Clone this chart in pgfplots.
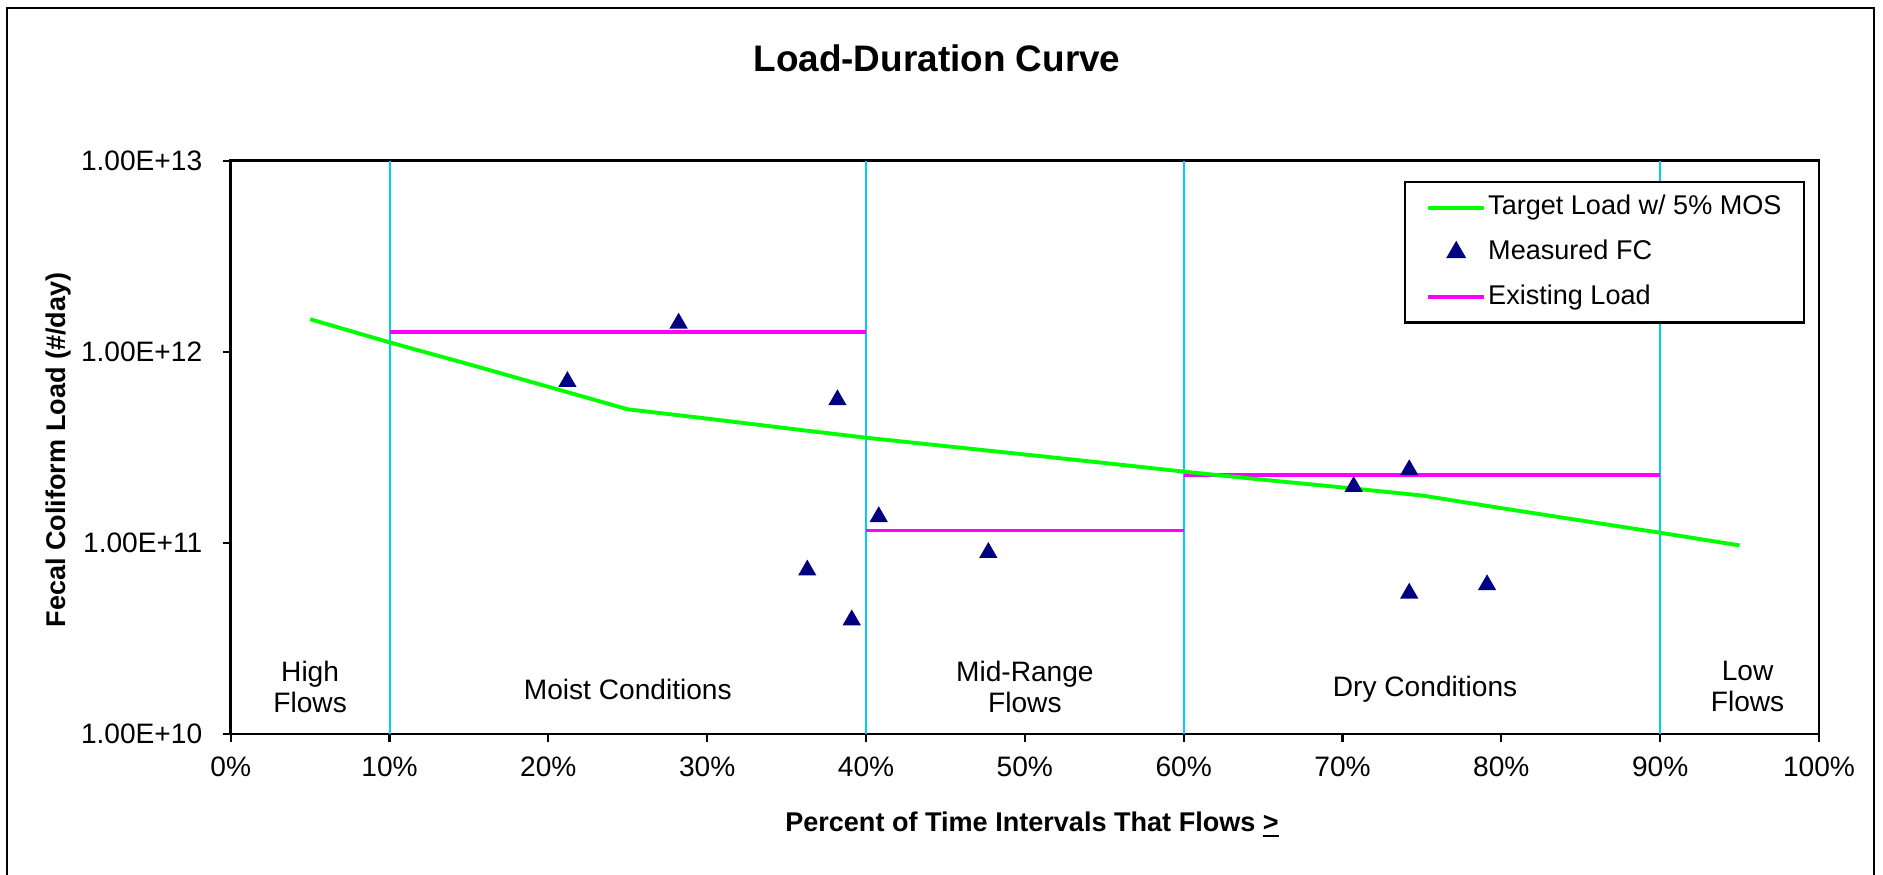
\documentclass[border=0pt]{standalone}
\usepackage{fontspec}
\setmainfont{Liberation Sans}
\usepackage{pgfplots}
\pgfplotsset{compat=1.18}
\definecolor{lgreen}{RGB}{0,255,0}
\definecolor{lmag}{RGB}{255,0,255}
\definecolor{lcyan}{RGB}{0,204,255}
\definecolor{lnavy}{RGB}{0,0,128}
\pgfplotsset{
  mylinelegend/.style={legend image code/.code={\path[draw=none,fill=none] (0cm,-0.223cm) rectangle (0.83cm,0.223cm);
    \draw[##1] (0.23cm,0cm) -- (0.79cm,0cm);}},
  mymarklegend/.style={legend image code/.code={\path[draw=none,fill=none] (0cm,-0.223cm) rectangle (0.83cm,0.223cm);
    \draw[mark repeat=1,##1] plot coordinates {(0.51cm,0cm)};}},
}
\begin{document}
\begin{tikzpicture}
\useasboundingbox (0,0) rectangle (18.83cm,8.74cm);
\begin{scope}
\clip (0,0) rectangle (18.83cm,8.74cm);
\draw[line width=0.6pt] (0.067cm,-0.5cm) rectangle (18.74cm,8.66cm);
\end{scope}
\node[anchor=base, font=\bfseries\fontsize{10.5}{12}\selectfont] at (9.37cm,8.02cm) {Load-Duration Curve};
\node[anchor=base, font=\bfseries\fontsize{7.7}{9}\selectfont] at (10.32cm,0.43cm) {Percent of Time Intervals That Flows \underline{>}};
\node[rotate=90, anchor=center, font=\bfseries\fontsize{7.7}{9}\selectfont] at (0.59cm,4.24cm) {Fecal Coliform Load (\#/day)};
\begin{axis}[
  scale only axis, width=15.883cm, height=5.733cm,
  at={(2.307cm,1.40cm)}, anchor=south west,
  ymode=log, xmin=0, xmax=100, ymin=1e10, ymax=1e13,
  xtick={0,10,20,30,40,50,60,70,80,90,100},
  xticklabels={0\%,10\%,20\%,30\%,40\%,50\%,60\%,70\%,80\%,90\%,100\%},
  ytick={1e10,1e11,1e12,1e13},
  yticklabels={1.00E+10,1.00E+11,1.00E+12,1.00E+13},
  yminorticks=false,
  tick pos=left,
  tick align=outside, major tick length=0.08cm,
  tick style={black, line width=0.6pt},
  axis line style={line width=0.7pt},
  ticklabel style={font=\fontsize{8}{9.6}\selectfont},
  xticklabel style={yshift=-0.7pt},
  yticklabel style={xshift=-2.3pt},
  unbounded coords=jump,
  legend cell align=left,
  legend style={at={(0.7387,0.9651)}, anchor=north west, draw=black, line width=0.7pt,
    fill=white, font=\fontsize{7.7}{9.2}\selectfont, inner xsep=0pt, inner ysep=1pt,
    row sep=0pt, nodes={inner sep=0pt}},
]
% zone boundaries
\addplot[lcyan, line width=0.55pt, forget plot] coordinates {(10,1e10) (10,1e13)};
\addplot[lcyan, line width=0.55pt, forget plot] coordinates {(40,1e10) (40,1e13)};
\addplot[lcyan, line width=0.55pt, forget plot] coordinates {(60,1e10) (60,1e13)};
\addplot[lcyan, line width=0.55pt, forget plot] coordinates {(90,1e10) (90,1e13)};
% existing load
\addplot[lmag, line width=1.1pt, forget plot] coordinates {
  (10,1.27e12) (40,1.27e12) (40,nan)
  (40,1.16e11) (60,1.16e11) (60,nan)
  (60,2.26e11) (90,2.26e11)};
% target load
\addplot[lgreen, line width=1.1pt, mylinelegend] coordinates {
  (5,1.48e12) (10,1.12e12) (15,8.6e11) (20,6.56e11) (25,5.0e11)
  (30,4.47e11) (35,3.98e11) (40,3.55e11) (45,3.21e11) (50,2.90e11)
  (55,2.62e11) (60,2.36e11) (65,2.14e11) (70,1.95e11) (75,1.77e11)
  (80,1.52e11) (85,1.31e11) (90,1.13e11) (95,9.7e10)};
\addlegendentry{\makebox[3.16cm][l]{Target Load w/ 5\% MOS}}
% measured FC
\addplot[only marks, mark=triangle*, mark size=2.6pt, draw=lnavy, fill=lnavy, mymarklegend] coordinates {
  (21.2,6.98e11) (28.2,1.41e12) (36.3,7.2e10) (38.2,5.6e11) (39.1,3.95e10)
  (40.8,1.37e11) (47.7,8.9e10) (70.7,1.97e11) (74.2,2.41e11) (74.2,5.45e10)
  (79.1,6.03e10)};
\addlegendentry{\makebox[3.16cm][l]{Measured FC}}
\addlegendimage{lmag, line width=1.1pt, mylinelegend}
\addlegendentry{\makebox[3.16cm][l]{Existing Load}}
% zone labels
\node[align=center, font=\fontsize{8}{8.8}\selectfont] at (axis cs:5,1.77e10) {High\\Flows};
\node[align=center, font=\fontsize{8}{8.8}\selectfont] at (axis cs:25,1.72e10) {Moist Conditions};
\node[align=center, font=\fontsize{8}{8.8}\selectfont] at (axis cs:50,1.77e10) {Mid-Range\\Flows};
\node[align=center, font=\fontsize{8}{8.8}\selectfont] at (axis cs:75.2,1.72e10) {Dry Conditions};
\node[align=center, font=\fontsize{8}{8.8}\selectfont] at (axis cs:95.5,1.77e10) {Low\\Flows};
\end{axis}
\end{tikzpicture}
\end{document}
